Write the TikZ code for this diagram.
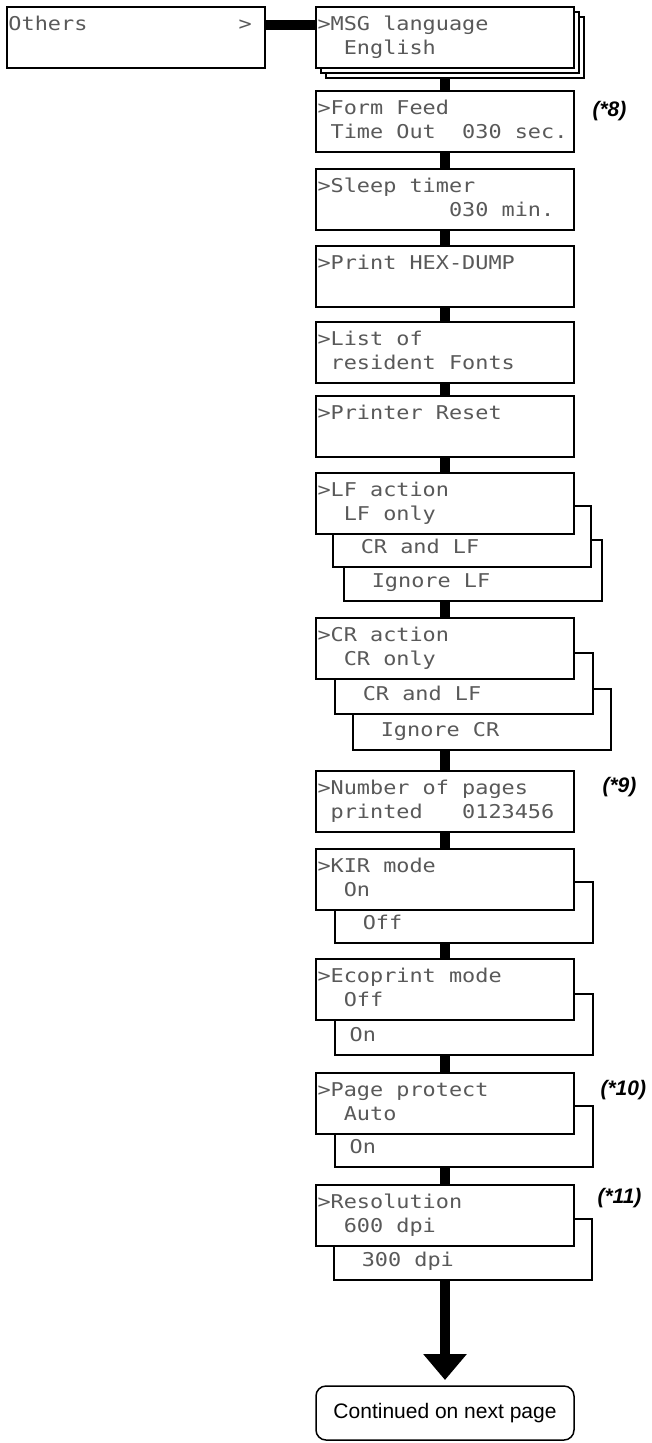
\documentclass[tikz,border=0pt]{standalone}
\usepackage{fontspec}
\setsansfont{Liberation Sans}
\newfontfamily\lcdfont[FakeStretch=1.15]{DejaVu Sans Mono}
\usetikzlibrary{arrows.meta,positioning,backgrounds}
\newlength{\lcdcw}
\newcommand{\lcd}{\lcdfont\fontsize{19}{24}\selectfont\settowidth{\lcdcw}{x}}
\newcommand{\lcdlines}[2]{\spaceskip=\lcdcw\xspaceskip=\lcdcw\strut\mbox{#1}\\\strut\mbox{#2}}

\begin{document}
\begin{tikzpicture}[
    screen/.style={draw, line width=1.5pt, fill=white, text width=255pt, inner xsep=1.5pt, inner ysep=0pt,
      outer sep=0pt, minimum height=61pt, align=left, font=\lcd, text=black!65},
    bar/.style={line width=10pt},
    note/.style={font=\sffamily\bfseries\itshape\fontsize{21}{24}\selectfont},
    cont/.style={draw, line width=1.5pt, rounded corners=10pt, outer sep=0pt, minimum width=258pt,
      minimum height=54pt, font=\sffamily\fontsize{21}{24}\selectfont}
  ]
  \useasboundingbox (0,0) rectangle (652pt,-1443pt);

  % Top level item
  \node[screen, anchor=north west] (others) at (7pt,-7pt) {\lcdlines{Others\hspace*{11.5\lcdcw}>}{}};

  % Menu column
  \node[screen, right=51pt of others] (msg) {\lcdlines{>MSG language}{~~English}};
  \node[screen, below=23pt of msg] (ff) {\lcdlines{>Form Feed}{~Time Out~~030 sec.}};
  \node[screen, below=17pt of ff] (sleep) {\lcdlines{>Sleep timer}{~~~~~~~~~~030 min.}};
  \node[screen, below=16pt of sleep] (hex) {\lcdlines{>Print HEX-DUMP}{}};
  \node[screen, below=15pt of hex] (fonts) {\lcdlines{>List of}{~resident Fonts}};
  \node[screen, below=13pt of fonts] (reset) {\lcdlines{>Printer Reset}{}};
  \node[screen, below=16pt of reset] (lf) {\lcdlines{>LF action}{~~LF only}};
  \node[screen, below=84pt of lf] (cr) {\lcdlines{>CR action}{~~CR only}};
  \node[screen, below=92pt of cr] (pages) {\lcdlines{>Number of pages}{~printed~~~0123456}};
  \node[screen, below=17pt of pages] (kir) {\lcdlines{>KIR mode}{~~On}};
  \node[screen, below=49pt of kir] (eco) {\lcdlines{>Ecoprint mode}{~~Off}};
  \node[screen, below=53pt of eco] (prot) {\lcdlines{>Page protect}{~~Auto}};
  \node[screen, below=51pt of prot] (res) {\lcdlines{>Resolution}{~~600 dpi}};
  \node[cont, below=140pt of res] (cont) {Continued on next page};

  % Options behind the screens
  \begin{scope}[on background layer]
    \node[screen, anchor=north west] (msgc) at ([shift={(10pt,-10pt)}]msg.north west) {};
    \node[screen, anchor=north west] (msgb) at ([shift={(5pt,-5pt)}]msg.north west) {};
    \node[screen, anchor=north west] (lfc) at ([shift={(28pt,-67pt)}]lf.north west) {\lcdlines{}{~~Ignore LF}};
    \node[screen, anchor=north west] (lfb) at ([shift={(17pt,-33pt)}]lf.north west) {\lcdlines{}{~~CR and LF}};
    \node[screen, anchor=north west] (crc) at ([shift={(37pt,-71pt)}]cr.north west) {\lcdlines{}{~~Ignore CR}};
    \node[screen, anchor=north west] (crb) at ([shift={(19pt,-35pt)}]cr.north west) {\lcdlines{}{~~CR and LF}};
    \node[screen, anchor=north west] (kirb) at ([shift={(19pt,-33pt)}]kir.north west) {\lcdlines{}{~~Off}};
    \node[screen, anchor=north west] (ecob) at ([shift={(19pt,-35pt)}]eco.north west) {\lcdlines{}{~On}};
    \node[screen, anchor=north west] (protb) at ([shift={(19pt,-33pt)}]prot.north west) {\lcdlines{}{~On}};
    \node[screen, anchor=north west] (resb) at ([shift={(18pt,-34pt)}]res.north west) {\lcdlines{}{~~300 dpi}};
  \end{scope}

  % Notes
  \node[note, anchor=west] (n8) at ([shift={(15pt,-20pt)}]ff.north east) {(*8)};
  \node[note, anchor=west] (n9) at ([shift={(25pt,-16pt)}]pages.north east) {(*9)};
  \node[note, anchor=west] (n10) at ([shift={(23pt,-17pt)}]prot.north east) {(*10)};
  \node[note, anchor=west] (n11) at ([shift={(20pt,-13pt)}]res.north east) {(*11)};

  % Connectors
  \draw[bar] ([yshift=-18pt]others.north east) -- ([yshift=-18pt]msg.north west);
  \draw[bar] (msgc.south -| msg.south) -- (ff.north);
  \draw[bar] (ff) -- (sleep);
  \draw[bar] (sleep) -- (hex);
  \draw[bar] (hex) -- (fonts);
  \draw[bar] (fonts) -- (reset);
  \draw[bar] (reset) -- (lf);
  \draw[bar] (lfc.south -| lf.south) -- (cr.north);
  \draw[bar] (crc.south -| cr.south) -- (pages.north);
  \draw[bar] (pages) -- (kir);
  \draw[bar] (kirb.south -| kir.south) -- (eco.north);
  \draw[bar] (ecob.south -| eco.south) -- (prot.north);
  \draw[bar] (protb.south -| prot.south) -- (res.north);
  \draw[bar, -{Triangle[length=26pt,width=42pt]}, shorten >=6pt] (resb.south -| res.south) -- (cont.north);
\end{tikzpicture}
\end{document}
